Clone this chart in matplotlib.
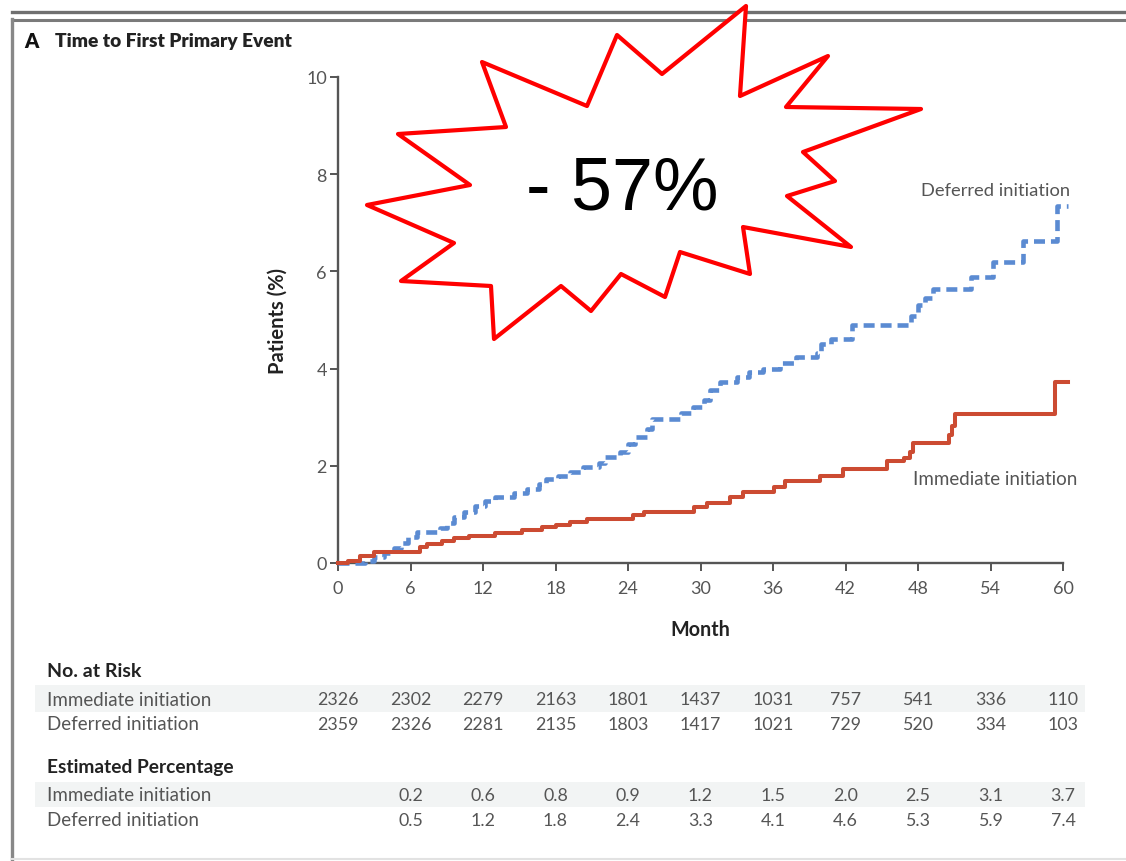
import matplotlib
matplotlib.use('Agg')  # no display
import matplotlib.pyplot as plt
import matplotlib.transforms as mtransforms
from matplotlib.patches import Polygon, Rectangle
from matplotlib.lines import Line2D

W, H = 1126, 862
GRAY = '#555555'
DARK = '#222222'
RED = '#cc4b32'
BLUE = '#5b8bd2'
plt.rcParams['font.family'] = ['Lato', 'DejaVu Sans']

# cumulative incidence, read as step points (month, percent)
imm_month = [0, 0.8, 1.8, 3.0, 6.8, 7.4, 8.6, 9.6, 10.8, 13.0, 15.2, 16.9, 18.0,
             19.2, 20.6, 24.4, 25.3, 29.5, 30.5, 32.4, 33.5, 36.1, 37.0, 39.9,
             41.8, 45.4, 46.8, 47.3, 47.6, 50.6, 50.8, 51.1, 59.3, 60.4]
imm_pct = [0, 0.05, 0.15, 0.22, 0.33, 0.40, 0.46, 0.52, 0.56, 0.62, 0.68, 0.74, 0.79,
           0.84, 0.90, 0.98, 1.04, 1.15, 1.24, 1.35, 1.46, 1.57, 1.68, 1.80,
           1.93, 2.10, 2.17, 2.28, 2.46, 2.64, 2.82, 3.06, 3.73, 3.73]

def_month = [0, 2.2, 3.0, 3.8, 4.6, 5.2, 5.8, 6.5, 8.4, 9.0, 9.6, 10.4, 11.3, 12.2,
             13.0, 14.6, 15.6, 16.6, 17.2, 18.2, 19.2, 20.3, 21.6, 22.1, 23.3, 24.0,
             24.6, 25.6, 26.0, 28.4, 29.4, 30.3, 30.8, 31.6, 33.0, 34.0, 35.2, 36.6,
             37.9, 39.6, 40.0, 40.8, 42.5, 47.4, 48.0, 48.6, 49.2, 52.4, 54.2, 56.7,
             59.5, 60.4]
def_pct = [0, 0.05, 0.12, 0.20, 0.30, 0.42, 0.54, 0.64, 0.72, 0.82, 0.95, 1.05, 1.17, 1.28,
           1.36, 1.45, 1.52, 1.62, 1.72, 1.80, 1.88, 1.98, 2.05, 2.18, 2.28, 2.45,
           2.60, 2.75, 2.96, 3.08, 3.20, 3.35, 3.56, 3.72, 3.82, 3.92, 4.00, 4.12,
           4.24, 4.32, 4.50, 4.60, 4.90, 5.08, 5.30, 5.45, 5.64, 5.88, 6.19, 6.63,
           7.35, 7.35]

table_months = [0, 6, 12, 18, 24, 30, 36, 42, 48, 54, 60]
risk_imm = [2326, 2302, 2279, 2163, 1801, 1437, 1031, 757, 541, 336, 110]
risk_def = [2359, 2326, 2281, 2135, 1803, 1417, 1021, 729, 520, 334, 103]
est_imm = [0.2, 0.6, 0.8, 0.9, 1.2, 1.5, 2.0, 2.5, 3.1, 3.7]
est_def = [0.5, 1.2, 1.8, 2.4, 3.3, 4.1, 4.6, 5.3, 5.9, 7.4]

# outline of the red starburst callout, in pixels from the top-left corner
burst = [(482, 63), (587, 107), (617, 36), (662, 75), (746, 7), (740, 97),
         (828, 57), (786, 108), (921, 110), (803, 153), (835, 182), (787, 197),
         (851, 248), (743, 228), (750, 275), (680, 253), (665, 298), (621, 275),
         (591, 312), (561, 287), (494, 340), (491, 287), (401, 282), (454, 244),
         (367, 206), (470, 186), (398, 135), (506, 128)]


def fx(x):
    return x / W


def fy(y):
    return 1 - y / H


fig = plt.figure(figsize=(W / 100, H / 100), dpi=100)
ax = fig.add_axes([fx(338), fy(564), fx(1063) - fx(338), fy(78) - fy(564)])

ax.plot(def_month, def_pct, drawstyle='steps-post', color=BLUE, lw=3.3,
        dashes=(2.4, 1.3), clip_on=False, zorder=3)
ax.plot(imm_month, imm_pct, drawstyle='steps-post', color=RED, lw=2.9,
        clip_on=False, zorder=4)

ax.set_xlim(0, 60)
ax.set_ylim(0, 10)
ax.set_xticks(table_months)
ax.set_yticks([0, 2, 4, 6, 8, 10])
for side in ('top', 'right'):
    ax.spines[side].set_visible(False)
for side in ('left', 'bottom'):
    ax.spines[side].set_color(GRAY)
    ax.spines[side].set_linewidth(1.7)
ax.tick_params(axis='both', colors=GRAY, labelcolor=GRAY, width=1.4, labelsize=13)
ax.tick_params(axis='y', length=6, pad=2)
ax.tick_params(axis='x', length=6, pad=6)

ax.set_ylabel('Patients (%)', fontsize=14.5, fontweight='bold', color=DARK)
ax.yaxis.set_label_coords(-0.070, 0.5)
ax.set_xlabel('Month', fontsize=14.2, fontweight='bold', color=DARK)
ax.xaxis.set_label_coords(0.5, -0.115)

ax.text(60.6, 7.67, 'Deferred initiation', ha='right', va='center',
        fontsize=13.2, color=GRAY, clip_on=False)
ax.text(61.2, 1.73, 'Immediate initiation', ha='right', va='center',
        fontsize=13.5, color=GRAY, clip_on=False)

# panel heading and frame
fig.text(fx(24), fy(42), 'A', fontsize=14.5, fontweight='heavy', color='#111111', va='center')
fig.text(fx(55), fy(42), 'Time to First Primary Event', fontsize=13.8,
         fontweight='heavy', color=DARK, va='center')
fig.add_artist(Line2D([fx(12), 1], [fy(13), fy(13)], color='#6f6f6f', lw=2.4))
fig.add_artist(Line2D([fx(12), 1], [fy(20.5), fy(20.5)], color='#7a7a7a', lw=2.2))
fig.add_artist(Line2D([fx(12), fx(12)], [fy(20), 0], color='#888888', lw=2.4))
fig.add_artist(Line2D([fx(12), 1], [fy(860), fy(860)], color='#e2e2e2', lw=1.5))

# number-at-risk and estimated-percentage table under the axis
tab = mtransforms.blended_transform_factory(ax.transData, fig.transFigure)
for top, bot in ((686, 713), (783, 808)):
    fig.add_artist(Rectangle((fx(35), fy(bot)), fx(1085) - fx(35), fy(top) - fy(bot),
                             facecolor='#f2f4f4', edgecolor='none', zorder=0))

fig.text(fx(47), fy(672), 'No. at Risk', fontsize=14, fontweight='bold',
         color=DARK, va='center')
fig.text(fx(47), fy(768), 'Estimated Percentage', fontsize=13.8, fontweight='bold',
         color=DARK, va='center')
for y, label in ((700, 'Immediate initiation'), (725, 'Deferred initiation'),
                 (796, 'Immediate initiation'), (821, 'Deferred initiation')):
    fig.text(fx(47), fy(y), label, fontsize=13.5, color=GRAY, va='center')

for m, a, b in zip(table_months, risk_imm, risk_def):
    ax.text(m, fy(700), str(a), transform=tab, ha='center', va='center',
            fontsize=12.8, color=GRAY)
    ax.text(m, fy(725), str(b), transform=tab, ha='center', va='center',
            fontsize=12.8, color=GRAY)
for m, a, b in zip(table_months[1:], est_imm, est_def):
    ax.text(m, fy(796), f'{a:.1f}', transform=tab, ha='center', va='center',
            fontsize=12.8, color=GRAY)
    ax.text(m, fy(821), f'{b:.1f}', transform=tab, ha='center', va='center',
            fontsize=12.8, color=GRAY)

# starburst callout
fig.add_artist(Polygon([(fx(x), fy(y)) for x, y in burst], closed=True,
                       facecolor='white', edgecolor='#ff0000', lw=3,
                       joinstyle='round', zorder=5))
fig.text(fx(622), fy(210), '- 57%', ha='center', va='baseline', fontsize=53,
         family='Liberation Sans', color='black', zorder=6)

fig.savefig('out.png', dpi=100)
